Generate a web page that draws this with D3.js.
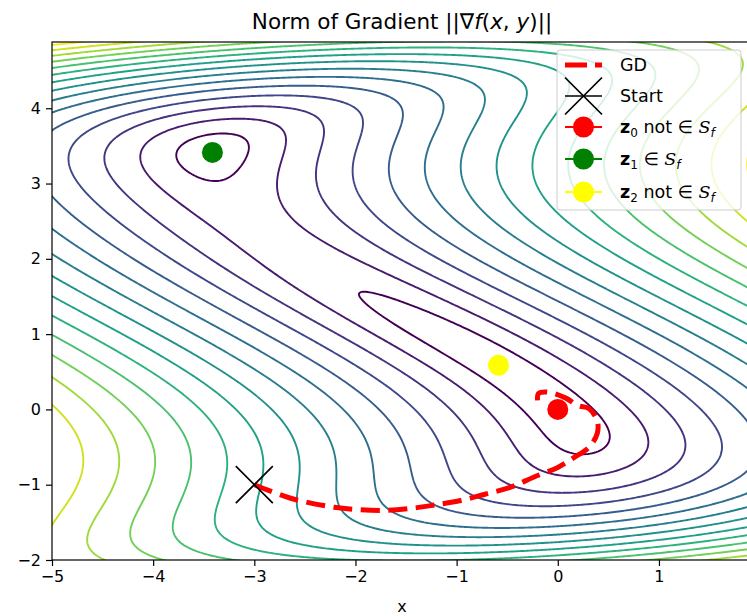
<!DOCTYPE html>
<html>
<head>
<meta charset="utf-8">
<script src="https://cdn.jsdelivr.net/npm/d3@7"></script>
<style>
  body { margin: 0; background: #fff; }
  text { font-family: "DejaVu Sans", sans-serif; }
</style>
</head>
<body>
<script>
// plot window and tick values
var xDomain = [-5, 1.92]
  , yDomain = [-2, 4.88]
  , xTicks = [-5, -4, -3, -2, -1, 0, 1]
  , yTicks = [-2, -1, 0, 1, 2, 3, 4]
  , levels = [1, 2, 3, 4, 5, 6, 7, 8, 9, 10, 11, 12, 13, 14, 15]

// f(x, y) = a (x + y)^2 - c (y^4/4 - 4y^3/3 + y^2), critical points on y = -x
var coefA = 1
  , coefC = 0.5

// gradient descent iterates
var gdX = [-3, -2.64, -2.21, -1.97, -1.68, -1.42, -1.22, -0.96, -0.73, -0.46, -0.24, 0, 0.16, 0.31, 0.39, 0.39, 0.31, 0.2, 0.08, -0.1, -0.19, -0.2]
  , gdY = [-1, -1.18, -1.3, -1.33, -1.34, -1.31, -1.27, -1.21, -1.13, -1.03, -0.9, -0.77, -0.64, -0.5, -0.32, -0.15, 0.01, 0.05, 0.15, 0.23, 0.21, 0.12]

var startX = -3, startY = -1
  , pointX = [0, -3.414, -0.586]
  , pointY = [0, 3.414, 0.586]
  , pointColors = ['#ff0000', '#008000', '#ffff00']
  , pointSubs = ['0', '1', '2']
  , pointTags = [' not  \u2208 ', ' \u2208 ', ' not  \u2208 ']

var W = 747, H = 616
  , pL = 52, pR = 752, pT = 42, pB = 560

var x = d3.scaleLinear().domain(xDomain).range([pL, pR])
  , y = d3.scaleLinear().domain(yDomain).range([pB, pT])

var svg = d3.select('body').append('svg').attr('width', W).attr('height', H)

svg.append('defs').append('clipPath').attr('id', 'plotclip')
  .append('rect').attr('x', pL).attr('y', pT)
  .attr('width', pR - pL).attr('height', pB - pT)

var gradNorm = function(px, py) {
  var u = 2 * coefA * (px + py)
    , gy = u - coefC * (py * py * py - 4 * py * py + 2 * py)
  return Math.sqrt(u * u + gy * gy)
}

// sample a grid slightly larger than the window so border edges fall outside the clip
var step = 0.02
  , gx0 = xDomain[0] - 0.2, gy0 = yDomain[0] - 0.2
  , nx = Math.ceil((xDomain[1] + 0.2 - gx0) / step) + 1
  , ny = Math.ceil((yDomain[1] + 0.2 - gy0) / step) + 1
  , values = new Array(nx * ny)

for (var j = 0; j < ny; j++) {
  for (var i = 0; i < nx; i++) {
    values[j * nx + i] = gradNorm(gx0 + i * step, gy0 + j * step)
  }
}

var contours = d3.contours().size([nx, ny]).thresholds(levels)(values)

var toPixels = d3.geoTransform({
  point: function(cx, cy) {
    this.stream.point(x(gx0 + (cx - 0.5) * step), y(gy0 + (cy - 0.5) * step))
  }
})
var geo = d3.geoPath(toPixels)
var color = function(v) {
  return d3.interpolateViridis((v - levels[0]) / (levels[levels.length - 1] - levels[0]))
}

var plot = svg.append('g').attr('clip-path', 'url(#plotclip)')

plot.selectAll('path.level').data(contours)
  .enter().append('path').classed('level', true)
  .attr('d', geo)
  .attr('fill', 'none')
  .attr('stroke', function(d) { return color(d.value) })
  .attr('stroke-width', 1.9)

var gdLine = d3.line().x(function(d) { return x(d[0]) }).y(function(d) { return y(d[1]) })
  .curve(d3.curveCatmullRom)

plot.append('path')
  .datum(gdX.map(function(v, k) { return [v, gdY[k]] }))
  .attr('d', gdLine)
  .attr('fill', 'none')
  .attr('stroke', '#ff0000')
  .attr('stroke-width', 5)
  .attr('stroke-dasharray', '19,8.5')

var drawCross = function(g, cx, cy, r) {
  g.append('path')
    .attr('d', 'M' + (cx - r) + ',' + (cy - r) + 'L' + (cx + r) + ',' + (cy + r) +
      'M' + (cx - r) + ',' + (cy + r) + 'L' + (cx + r) + ',' + (cy - r))
    .attr('stroke', '#000').attr('stroke-width', 1.7).attr('fill', 'none')
}

drawCross(plot, x(startX), y(startY), 18.5)

plot.selectAll('circle.pt').data(pointX)
  .enter().append('circle').classed('pt', true)
  .attr('cx', function(d) { return x(d) })
  .attr('cy', function(d, k) { return y(pointY[k]) })
  .attr('r', 10.5)
  .attr('fill', function(d, k) { return pointColors[k] })

// frame
svg.append('rect').attr('x', pL).attr('y', pT)
  .attr('width', pR - pL).attr('height', pB - pT)
  .attr('fill', 'none').attr('stroke', '#000').attr('stroke-width', 1.2)

var fmt = function(d) { return d < 0 ? '\u2212' + Math.abs(d) : d }
svg.append('g').attr('transform', 'translate(0,' + pB + ')')
  .call(d3.axisBottom(x).tickValues(xTicks).tickSize(6).tickPadding(5).tickFormat(fmt))
svg.append('g').attr('transform', 'translate(' + pL + ',0)')
  .call(d3.axisLeft(y).tickValues(yTicks).tickSize(6).tickPadding(5).tickFormat(fmt))

svg.selectAll('.domain').remove()
svg.selectAll('.tick line').attr('stroke', '#000').attr('stroke-width', 1.2)
svg.selectAll('.tick text').attr('font-size', 16).attr('fill', '#000')
  .style('font-family', '"DejaVu Sans", sans-serif')

svg.append('text').attr('x', (pL + pR) / 2).attr('y', 612)
  .attr('text-anchor', 'middle').attr('font-size', 16).text('x')

var title = svg.append('text').attr('x', (pL + pR) / 2).attr('y', 29)
  .attr('text-anchor', 'middle').attr('font-size', 21.5)
title.append('tspan').text('Norm of Gradient ||\u2207')
title.append('tspan').attr('font-style', 'italic').text('f')
title.append('tspan').text('(')
title.append('tspan').attr('font-style', 'italic').text('x')
title.append('tspan').text(', ')
title.append('tspan').attr('font-style', 'italic').text('y')
title.append('tspan').text(')||')

// legend
var lg = svg.append('g')
  , lgX = 557, lgY = 50, rowY = [65, 96, 127, 159, 192]
  , hx0 = 565, hx1 = 602, tx = 620
lg.append('rect').attr('x', lgX).attr('y', lgY).attr('width', 184).attr('height', 160)
  .attr('rx', 3).attr('fill', '#fff').attr('fill-opacity', 0.8)
  .attr('stroke', '#cccccc').attr('stroke-width', 1)

lg.append('line').attr('x1', hx0).attr('x2', hx1).attr('y1', rowY[0]).attr('y2', rowY[0])
  .attr('stroke', '#ff0000').attr('stroke-width', 5).attr('stroke-dasharray', '22,8')
lg.append('text').attr('x', tx).attr('y', rowY[0] + 6).attr('font-size', 17.5).text('GD')

lg.append('line').attr('x1', hx0).attr('x2', hx1).attr('y1', rowY[1]).attr('y2', rowY[1])
  .attr('stroke', '#000').attr('stroke-width', 1.7)
drawCross(lg, (hx0 + hx1) / 2, rowY[1], 18.5)
lg.append('text').attr('x', tx).attr('y', rowY[1] + 6).attr('font-size', 17.5).text('Start')

pointColors.forEach(function(c, k) {
  var ry = rowY[k + 2]
  lg.append('line').attr('x1', hx0).attr('x2', hx1).attr('y1', ry).attr('y2', ry)
    .attr('stroke', c).attr('stroke-width', 2)
  lg.append('circle').attr('cx', (hx0 + hx1) / 2).attr('cy', ry).attr('r', 10.5).attr('fill', c)
  var t = lg.append('text').attr('x', tx).attr('y', ry + 6).attr('font-size', 17.5)
  t.append('tspan').attr('font-weight', 'bold').text('z')
  t.append('tspan').attr('font-size', 12).attr('dy', 4).text(pointSubs[k])
  t.append('tspan').attr('dy', -4).text(pointTags[k])
  t.append('tspan').attr('font-style', 'italic').style('font-family', '"DejaVu Serif", serif').text('S')
  t.append('tspan').attr('font-size', 12).attr('dy', 4).attr('font-style', 'italic').text('f')
})
</script>
</body>
</html>
